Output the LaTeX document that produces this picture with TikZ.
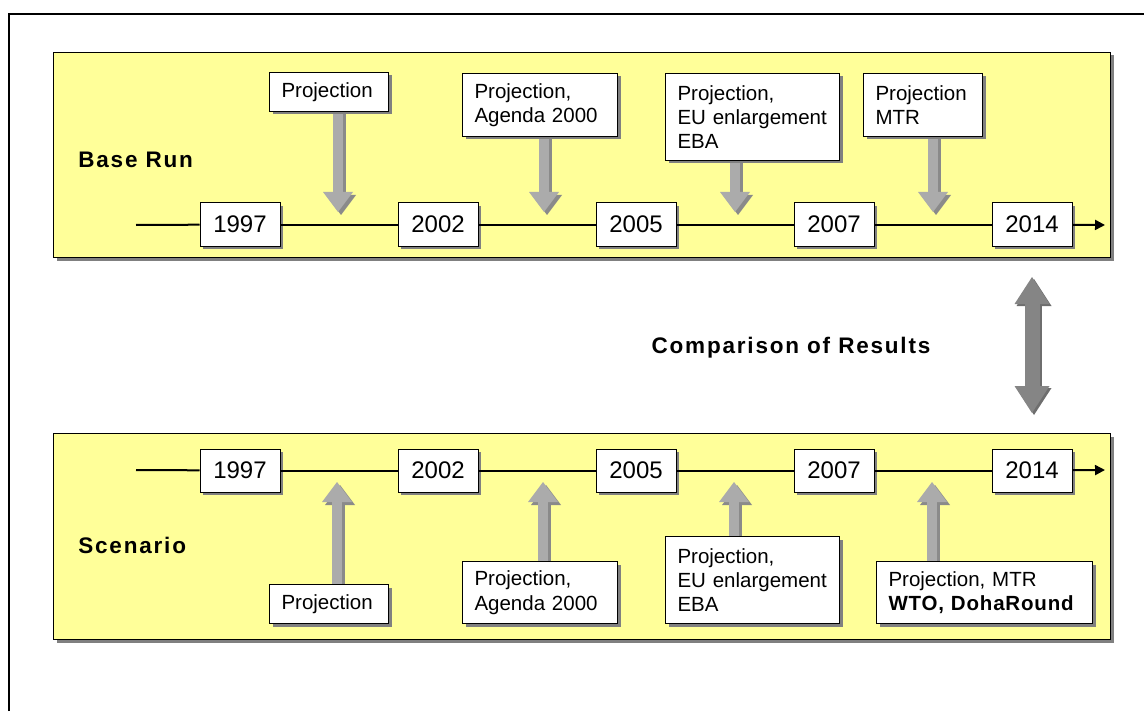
\documentclass[tikz,border=0pt]{standalone}
\usepackage{fontspec}
\setmainfont{Liberation Sans}
\newfontfamily\spacedsf{Liberation Sans}[LetterSpace=8]
\newfontfamily\tightsf{Liberation Sans}[LetterSpace=4]
\usetikzlibrary{arrows.meta,positioning,calc,shadows}
\definecolor{panelyellow}{HTML}{FFFF99}
\definecolor{shadowgray}{HTML}{808080}
\definecolor{arrgray}{HTML}{ABABAB}
\definecolor{arrdark}{HTML}{8A8A8A}
\definecolor{dblgray}{HTML}{858585}
\definecolor{dbldark}{HTML}{6E6E6E}
\pgfdeclarelayer{back}
\pgfdeclarelayer{mid}
\pgfsetlayers{back,mid,main}
\tikzset{
  box shadow/.style={drop shadow={shadow xshift=1.5pt, shadow yshift=-1.5pt,
    fill=shadowgray, opacity=1}},
  panel style/.style={rectangle, draw, line width=0.5pt, fill=panelyellow,
    anchor=north west, inner sep=0pt, box shadow},
  year style/.style={rectangle, draw, line width=0.5pt, fill=white, inner sep=0pt,
    minimum width=40pt, minimum height=21.5pt, font=\fontsize{12}{14}\selectfont, box shadow},
  note style/.style={rectangle, draw, line width=0.5pt, fill=white, anchor=north west,
    inner xsep=6pt, inner ysep=0pt, align=left, font=\fontsize{10.25}{12.2}\selectfont, box shadow},
  title style/.style={anchor=west, inner sep=0pt, font=\spacedsf\bfseries\fontsize{11.25}{13}\selectfont},
  line style/.style={line width=1pt},
  blk arrow/.style={line width=5pt, draw=arrgray, -{Triangle[length=10pt, width=15pt, line width=0pt]}},
  blk shadow/.style={blk arrow, draw=arrdark, transform canvas={shift={(1.5pt,-1.5pt)}}},
  dbl arrow/.style={line width=7.5pt, draw=dblgray,
    {Triangle[length=13.5pt, width=17.5pt, line width=0pt]}-{Triangle[length=13.5pt, width=17.5pt, line width=0pt]}},
  dbl shadow/.style={dbl arrow, draw=dbldark, transform canvas={shift={(1pt,-1pt)}}}
}
\begin{document}
\begin{tikzpicture}[x=0.5pt, y=-0.5pt]
\useasboundingbox (0,0) rectangle (1144,711);
\draw[line width=1pt] (9,711) -- (9,14) -- (1144,14);

\begin{pgfonlayer}{back}
\node[panel style, minimum width=528.5pt, minimum height=102.5pt] (base) at (53,52) {};
\node[panel style, minimum width=528.5pt, minimum height=103pt] (scen) at (53,433) {};
\end{pgfonlayer}

\node[title style] (baselbl) at (78,160) {Base Run};
\node[title style] (scenlbl) at (78,545) {Scenario};
\node[title style, anchor=center] (cmp) at (791,348) {Comparison of Results};

% base run timeline
\coordinate (ts) at (136,225);
\coordinate (te) at (1105,225);
\foreach \yr [count=\i] in {1997,2002,2005,2007,2014}
  \node[year style] (ty\i) at ({240+198*(\i-1)},224.5) {\yr};
\draw[line style] (ts) -- (ty1);
\foreach \a/\b in {ty1/ty2,ty2/ty3,ty3/ty4,ty4/ty5}
  \draw[line style] (\a) -- (\b);
\draw[line style, -{Triangle[length=5pt, width=5pt]}] (ty5) -- (te);

\node[note style, text width=47.5pt, minimum height=19.5pt] (ta) at (269,72) {Projection};
\node[note style, text width=65.5pt, minimum height=31.5pt] (tb) at (462,73) {Projection,\\Agenda 2000};
\node[note style, text width=75pt, minimum height=43.5pt] (tc) at (665,73) {Projection,\\EU enlargement\\EBA};
\node[note style, text width=47.5pt, minimum height=31.5pt] (td) at (863,73) {Projection\\MTR};

% scenario timeline
\coordinate (bs) at (136,470);
\coordinate (be) at (1105,470);
\foreach \yr [count=\i] in {1997,2002,2005,2007,2014}
  \node[year style] (by\i) at ({240+198*(\i-1)},470.5) {\yr};
\draw[line style] (bs) -- (by1);
\foreach \a/\b in {by1/by2,by2/by3,by3/by4,by4/by5}
  \draw[line style] (\a) -- (\b);
\draw[line style, -{Triangle[length=5pt, width=5pt]}] (by5) -- (be);

\node[note style, text width=47.5pt, minimum height=19.5pt] (ba) at (269,584) {Projection};
\node[note style, text width=65.5pt, minimum height=31pt] (bb) at (462,561) {Projection,\\Agenda 2000};
\node[note style, text width=75pt, minimum height=43.5pt] (bc) at (665,536) {Projection,\\EU enlargement\\EBA};
\node[note style, text width=96pt, minimum height=31pt] (bd) at (876,561) {Projection, MTR\\{\tightsf\bfseries WTO, DohaRound}};

% block arrows
\coordinate (tt1) at (338,212);
\coordinate (tt2) at (544,212);
\coordinate (tt3) at (735,212);
\coordinate (tt4) at (933,212);
\coordinate (bt1) at (337,482);
\coordinate (bt2) at (543,482);
\coordinate (bt3) at (734,482);
\coordinate (bt4) at (932,482);
\begin{pgfonlayer}{mid}
\foreach \bx/\tp in {ta/tt1,tb/tt2,tc/tt3,td/tt4,ba/bt1,bb/bt2,bc/bt3,bd/bt4} {
  \draw[blk shadow] (\bx.center -| \tp) -- (\tp);
  \draw[blk arrow] (\bx.center -| \tp) -- (\tp);
}
\end{pgfonlayer}

\coordinate (c1) at (1032,277);
\coordinate (c2) at (1032,413);
\draw[dbl shadow] (c1) -- (c2);
\draw[dbl arrow] (c1) -- (c2);
\end{tikzpicture}
\end{document}
